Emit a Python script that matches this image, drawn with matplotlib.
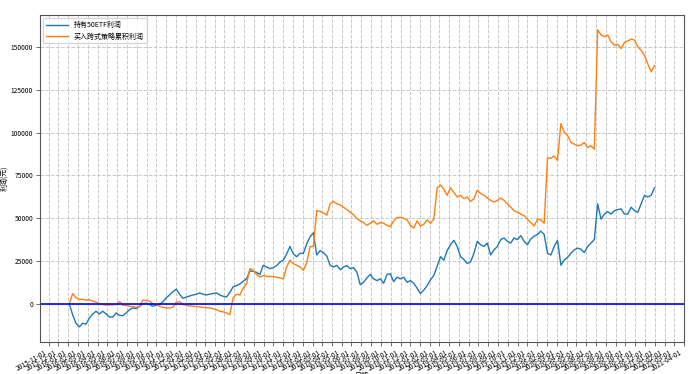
import matplotlib
matplotlib.use("Agg")
import matplotlib.pyplot as plt
import matplotlib.dates as mdates
import pandas as pd

plt.rcParams['font.family'] = ['Noto Sans CJK SC', 'DejaVu Sans']
plt.rcParams['axes.unicode_minus'] = False

start_date = '2016-01-04'
end_date = '2020-12-31'

etf_profit = [
    0, -6300, -11300, -13500, -11300, -11900, -8300, -5900, -4300, -5900,
    -4300, -5900, -7700, -7700, -5300, -6700, -6900, -5300, -3400, -2400,
    -2800, -1400, 0, 400, -400, -1400, -800, -400, 1200, 3600,
    5200, 7200, 8600, 5600, 3200, 4000, 4600, 5200, 5600, 6400,
    5600, 5200, 5600, 6000, 6400, 5200, 4400, 4000, 6600, 10000,
    10600, 11600, 13200, 14600, 19200, 19000, 18400, 17200,
    22500, 21500, 20600, 21150, 22350, 24340, 25530, 29120, 33500, 29100,
    27530, 29520, 29500, 35100, 39080, 41500, 28520, 31110, 29920, 27930,
    22500, 21550, 22500, 19950, 21550, 22350, 20550, 21150, 18560, 11190,
    12590, 15180, 17170, 14580, 13580, 14580, 11990, 17170, 17570, 12990,
    15570, 14580, 15570, 12590, 13580, 11990, 9200, 6010, 8000, 10590,
    13980, 16570, 21950, 27530, 25530, 31110, 34500, 37090, 33500,
    27540, 25940, 23550, 24550, 29530, 36500, 34510, 33510, 35500, 28530,
    31520, 33510, 37500, 38500, 36500, 35500, 38500, 37500, 39890, 36500,
    34510, 37890, 39490, 40490, 42480, 40490, 29530, 28530, 33510, 37100,
    22560, 25540, 27140, 29530, 31520, 32520, 31920, 29930, 33510, 35500,
    37500, 58410, 49450, 52440, 53830, 52440, 54430, 55030, 55430, 52440,
    52440, 56420, 54430, 53440, 58410, 63390, 62400, 63390, 67780,
]

straddle_profit = [
    0, 6000, 3600, 2600, 2600, 2200, 2400, 1600, 1000, 200,
    -400, -800, -600, -600, -400, 1400, -800, -1000, -1400, -1600,
    -2000, -1600, 2200, 2000, 1600, 0, -400, -1400, -2000, -2400,
    -2400, -2000, 1000, 1200, -400, -800, -1200, -1400, -1600, -1800,
    -2000, -2200, -2400, -2800, -3400, -4300, -4700, -5300, -6300, 3600,
    5600, 5200, 9200, 11600, 20600, 19600, 17200, 15600,
    16570, 15970, 15970, 15970, 15570, 15180, 14580, 21550, 25530, 23540,
    22550, 21550, 19560, 23940, 33500, 33500, 54420, 54020, 53020, 51830,
    58400, 59800, 58400, 57800, 56410, 55010, 53420, 52030, 49840, 48440,
    47450, 45850, 47050, 48440, 46450, 47450, 47050, 45850, 45060, 48440,
    50430, 50430, 50040, 49040, 45850, 44260, 48440, 45450, 46450, 49040,
    47050, 49440, 67760, 69360, 66970, 63380, 67760, 64980, 62390,
    63390, 61400, 62400, 59810, 61400, 66380, 64390, 63390, 61800, 60410,
    59410, 60410, 61800, 60410, 58410, 56420, 54430, 53440, 52440, 51440,
    49450, 47460, 45460, 49450, 49050, 47060, 85310, 84910, 86300, 83710,
    105230, 100240, 98250, 94270, 93270, 92280, 92680, 94270, 91280, 92280,
    90290, 160000, 157020, 156020, 157020, 153030, 151040, 151440, 149050, 152640,
    153430, 154630, 154030, 150050, 148050, 145070, 140090, 135500, 139090,
]

dates = pd.date_range(start_date, end_date, periods=len(etf_profit))

fig = plt.figure(figsize=(6.9, 3.74), dpi=100)
ax = fig.add_axes([0.058, 0.086, 0.933, 0.874])

ax.plot(dates, etf_profit, color='#1f77b4', lw=1.0, label='持有50ETF利润')
ax.plot(dates, straddle_profit, color='#ff7f0e', lw=1.0, label='买入跨式策略累积利润')
ax.axhline(0, color='blue', lw=1.2)

ax.grid(True, linestyle='--', color='#c8c8c8', lw=0.7)
ax.xaxis.set_major_locator(mdates.MonthLocator())
ax.xaxis.set_major_formatter(mdates.DateFormatter('%Y-%m-%d'))
for lbl in ax.get_xticklabels():
    lbl.set_rotation(30)
    lbl.set_ha('right')
ax.tick_params(axis='both', labelsize=4.8, length=3, width=0.6, color='#555555', pad=2)
for s in ax.spines.values():
    s.set_color('#555555')
    s.set_linewidth(0.8)

ax.set_xlabel('日期', fontsize=5, labelpad=-1)
ax.set_ylabel('利润(元)', fontsize=5, labelpad=2)
ax.legend(loc='upper left', fontsize=5, frameon=True, handlelength=3.2)

fig.savefig('out.png', dpi=100)
